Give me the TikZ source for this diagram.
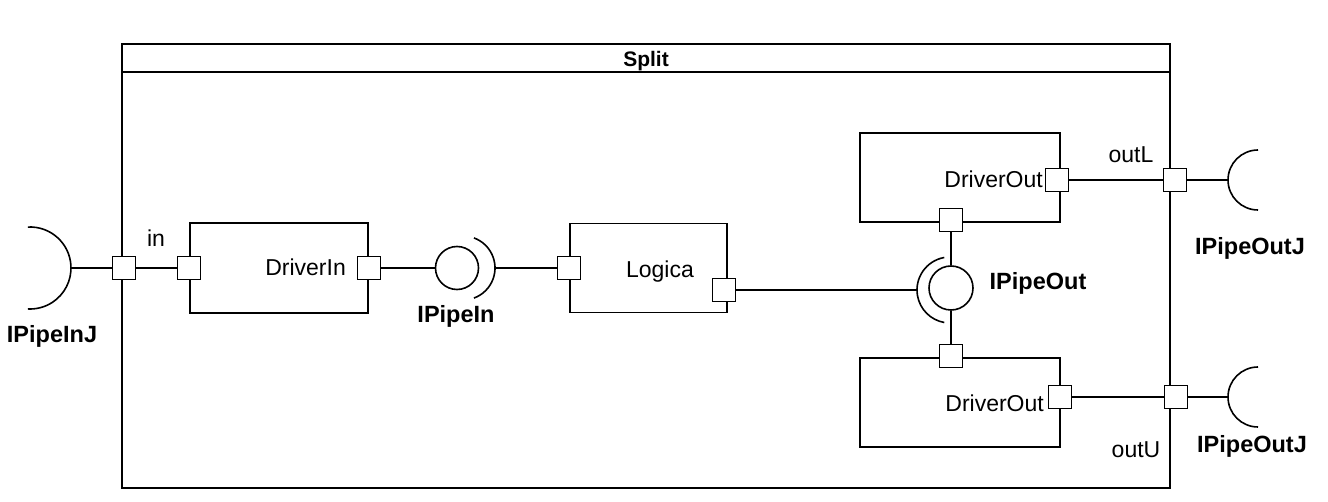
\documentclass[tikz,border=0pt]{standalone}
\usepackage{fontspec}
\setmainfont{Liberation Sans}
\usetikzlibrary{positioning}
\tikzset{
    splitbox/.style={
        rectangle, draw=black, line width=1.8pt, inner sep=0pt
    },
    comp/.style={
        rectangle, draw=black, line width=1.8pt, inner sep=0pt,
        minimum width=200pt, minimum height=89pt
    },
    port/.style={
        rectangle, draw=black, fill=white, line width=1.6pt,
        minimum size=23pt, inner sep=0pt
    },
    ball/.style={circle, draw=black, line width=1.6pt, inner sep=0pt},
    wire/.style={line width=1.6pt},
    lbl/.style={font=\fontsize{23}{26}\selectfont, inner sep=0pt, anchor=base},
    iflbl/.style={font=\fontsize{23.5}{26}\selectfont\bfseries, inner sep=0pt, anchor=base}
}

\begin{document}
\begin{tikzpicture}[x=1pt, y=-1pt]
\useasboundingbox (0,0) rectangle (1328,502);

% ── Outer component: Split ──────────────────────────────────────────────────
\node[splitbox, minimum width=1048pt, minimum height=444pt] (split) at (646,266) {};
\draw[line width=1.8pt] ([yshift=-29pt]split.north west) -- ([yshift=-29pt]split.north east);
\node[iflbl, font=\fontsize{21}{23}\selectfont\bfseries] (splittitle) at (646,67) {Split};

% ── Inner components ────────────────────────────────────────────────────────
\node[comp, minimum width=178pt, minimum height=90pt] (drvin) at (279,268) {};
\node[comp, minimum width=157pt] (logica) at (648.5,268) {};
\node[comp] (drvoutL) at (960,177.5) {};
\node[comp] (drvoutU) at (960,402.5) {};

% ── Ports ───────────────────────────────────────────────────────────────────
\node[port] (pin)       at (124,268) {};
\node[port] (pdrvin)    at (drvin.west) {};
\node[port] (pdrvinout) at (drvin.east) {};
\node[port] (plogin)    at (logica.west) {};
\node[port] (plogout)   at (724,290) {};
\node[port] (pdrvL)     at (1057,180) {};
\node[port] (pdrvLin)   at (951,220) {};
\node[port] (pdrvUin)   at (951,356) {};
\node[port] (pdrvU)     at (1060,397) {};
\node[port] (poutL)     at (1175,180) {};
\node[port] (poutU)     at (1176,397) {};

% ── Interfaces: balls and sockets ───────────────────────────────────────────
\node[ball, minimum size=43pt] (ipipein) at (457,268) {};
\coordinate (sockin) at (463,268);
\draw[wire] ([shift={(70:32pt)}]sockin) arc[start angle=70, end angle=-70, radius=32pt];

\node[ball, minimum size=44pt] (ipipeout) at (951,288) {};
\coordinate (sockout) at (950,290);
\draw[wire] ([shift={(100:33pt)}]sockout) arc[start angle=100, end angle=260, radius=33pt];

\coordinate (sockinJ) at (30,268);
\draw[wire] ([shift={(93:41pt)}]sockinJ) arc[start angle=93, end angle=-93, radius=41pt];

\coordinate (sockoutL) at (1258,180);
\draw[wire] ([shift={(90:30pt)}]sockoutL) arc[start angle=90, end angle=270, radius=30pt];
\coordinate (sockoutU) at (1258,397);
\draw[wire] ([shift={(90:30pt)}]sockoutU) arc[start angle=90, end angle=270, radius=30pt];

% ── Wires ───────────────────────────────────────────────────────────────────
\draw[wire] ([xshift=41pt]sockinJ) -- (pin.west);
\draw[wire] (pin.east)        -- (pdrvin.west);
\draw[wire] (pdrvinout.east)  -- (ipipein.west);
\draw[wire] ([xshift=32pt]sockin) -- (plogin.west);
\draw[wire] (plogout.east)    -- ([xshift=-33pt]sockout);
\draw[wire] (pdrvLin.south)   -- (ipipeout.north);
\draw[wire] (ipipeout.south)  -- (pdrvUin.north);
\draw[wire] (pdrvL.east)      -- (poutL.west);
\draw[wire] (poutL.east)      -- ([xshift=-30pt]sockoutL);
\draw[wire] (pdrvU.east)      -- (poutU.west);
\draw[wire] (poutU.east)      -- ([xshift=-30pt]sockoutU);

% ── Labels ──────────────────────────────────────────────────────────────────
\node[lbl] (inlbl) at (156,247) {in};
\node[lbl, anchor=base east] (drvinlbl) at (346,276) {DriverIn};
\node[lbl] (loglbl) at (660,278) {Logica};
\node[lbl, anchor=base east] (drvLlbl) at (1043,188) {DriverOut};
\node[lbl, anchor=base east] (drvUlbl) at (1044,412) {DriverOut};
\node[lbl] (outLlbl) at (1131,163) {outL};
\node[lbl] (outUlbl) at (1136,457) {outU};

\node[iflbl] (ipipeinJlbl)  at (52,343)   {IPipeInJ};
\node[iflbl] (ipipeinlbl)   at (456,323)  {IPipeIn};
\node[iflbl] (ipipeoutlbl)  at (1038,290) {IPipeOut};
\node[iflbl] (ipipeoutLlbl) at (1250,255) {IPipeOutJ};
\node[iflbl] (ipipeoutUlbl) at (1252,453) {IPipeOutJ};

\end{tikzpicture}
\end{document}
